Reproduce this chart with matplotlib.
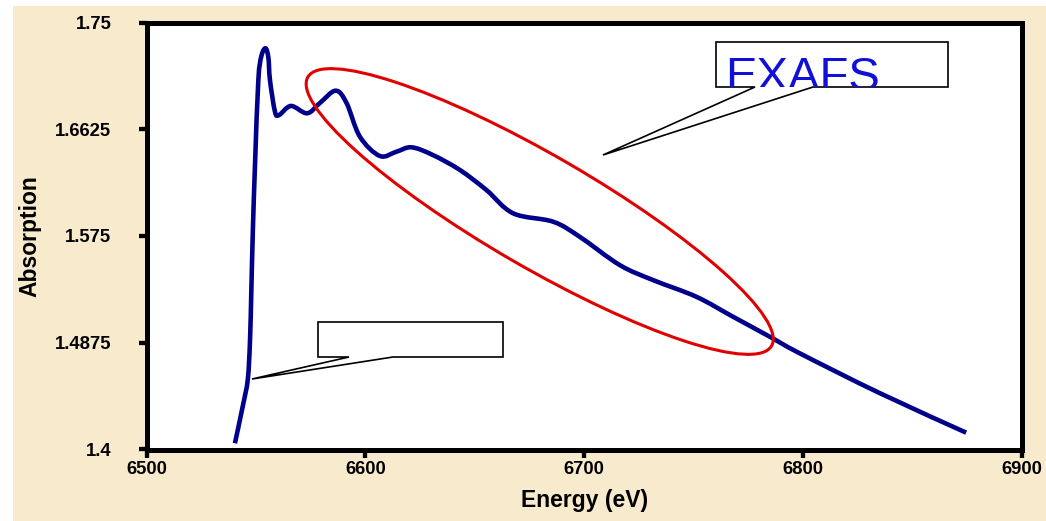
import matplotlib
matplotlib.use("Agg")
import matplotlib.pyplot as plt
from matplotlib.patches import Rectangle, Ellipse, Polygon, PathPatch
from matplotlib.path import Path
from matplotlib.transforms import IdentityTransform, Bbox

# ---- data ----
energy = [6540.4, 6544.1, 6546.3, 6547.3, 6547.9, 6548.6, 6549.6, 6551.1,
          6552.5, 6554.4, 6555.7, 6556.4, 6558.7, 6560.6, 6566.0, 6573.4, 6579.2,
          6586.4, 6591.4, 6597.5, 6606.6, 6614.2, 6621.1, 6630.8, 6643.2, 6655.3,
          6667.5, 6685.8, 6697.9, 6716.2, 6731.4, 6751.2, 6767.9, 6784.7, 6798.4,
          6834.9, 6874.5]
absorption = [1.4051, 1.4365, 1.4578, 1.4898, 1.5307, 1.5799, 1.6348, 1.7029,
              1.7225, 1.7289, 1.7209, 1.7029, 1.6769, 1.6742, 1.6816, 1.6756, 1.6840,
              1.6941, 1.6840, 1.6564, 1.6406, 1.6441, 1.6477, 1.6414, 1.6291, 1.6127,
              1.5936, 1.5867, 1.5744, 1.5512, 1.5389, 1.5252, 1.5089, 1.4925, 1.4789,
              1.4463, 1.4138]
x_ticks = [6500, 6600, 6700, 6800, 6900]
y_ticks = [1.4, 1.4875, 1.575, 1.6625, 1.75]
y_tick_labels = ["1.4", "1.4875", "1.575", "1.6625", "1.75"]
callout_text = "EXAFS"

W, H = 1046, 521
fig = plt.figure(figsize=(W / 100, H / 100), dpi=100, facecolor="white")

# parchment background
fig.patches.append(Rectangle((13 / W, 0), 1 - 13 / W, (H - 6) / H,
                             transform=fig.transFigure, facecolor="#F8EBCD",
                             edgecolor="none", zorder=-10))

left, right, top, bottom = 146.5, 1022.0, 22.5, 449.5
ax = fig.add_axes([left / W, (H - bottom) / H, (right - left) / W, (bottom - top) / H])
ax.set_zorder(1)
ax.set_facecolor("white")


def smooth_path(xs, ys, k=1.0 / 6.0):
    """Smoothed-line rendering (Catmull-Rom as cubic Bezier segments)."""
    pts = list(zip(xs, ys))
    n = len(pts)
    verts = [pts[0]]
    codes = [Path.MOVETO]
    for i in range(n - 1):
        p0 = pts[i - 1] if i > 0 else pts[i]
        p1 = pts[i]
        p2 = pts[i + 1]
        p3 = pts[i + 2] if i + 2 < n else pts[i + 1]
        c1 = (p1[0] + (p2[0] - p0[0]) * k, p1[1] + (p2[1] - p0[1]) * k)
        c2 = (p2[0] - (p3[0] - p1[0]) * k, p2[1] - (p3[1] - p1[1]) * k)
        verts += [c1, c2, p2]
        codes += [Path.CURVE4] * 3
    return Path(verts, codes)


ax.add_patch(PathPatch(smooth_path(energy, absorption), facecolor="none",
                       edgecolor="#00008B", lw=3.3, joinstyle="round",
                       capstyle="butt", zorder=3))

ax.set_xlim(6500, 6900)
ax.set_ylim(1.4, 1.75)
ax.set_xticks(x_ticks)
ax.set_xticklabels([str(v) for v in x_ticks])
ax.set_yticks(y_ticks)
ax.set_yticklabels(y_tick_labels)

for s in ax.spines.values():
    s.set_linewidth(3.6)
    s.set_color("black")
ax.tick_params(axis="both", direction="out", length=5.8, width=3.1, color="black")
ax.tick_params(axis="y", pad=19.5)
ax.tick_params(axis="x", pad=2.5)
for lab in ax.get_xticklabels() + ax.get_yticklabels():
    lab.set_fontfamily("Liberation Sans")
    lab.set_fontweight("bold")
    lab.set_fontsize(13.3)

ax.set_xlabel("Energy (eV)", fontfamily="Liberation Sans", fontweight="bold",
              fontsize=16.5, labelpad=8)
ax.set_ylabel("Absorption", fontfamily="Liberation Sans", fontweight="bold",
              fontsize=16.5, labelpad=10)

# ---- annotations in pixel space (image y measured from top) ----
ident = IdentityTransform()


def P(x, y):
    return (x, H - y)


ell = Ellipse(P(539.7, 211.5), width=536, height=112, angle=-30.1,
              transform=ident, facecolor="none", edgecolor="#E00000", lw=2.2,
              zorder=4, clip_on=False)
fig.patches.append(ell)

exafs_box = [P(716, 42), P(948, 42), P(948, 87), P(813, 87), P(603, 155),
             P(755, 87), P(716, 87)]
fig.patches.append(Polygon(exafs_box, closed=True, transform=ident,
                           facecolor="white", edgecolor="black", lw=1.2, zorder=5,
                           joinstyle="miter"))
t = fig.text(725, H - 90, callout_text, transform=ident, fontsize=34,
             fontfamily="Liberation Sans", color="#1010D8", ha="left",
             va="baseline", zorder=6)
t.set_clip_on(True)
t.set_clip_box(Bbox.from_extents(716.5, H - 86.5, 947.5, H - 42.5))

low_box = [P(318, 322), P(503, 322), P(503, 357), P(393, 357), P(252, 379),
           P(349, 357), P(318, 357)]
fig.patches.append(Polygon(low_box, closed=True, transform=ident,
                           facecolor="white", edgecolor="black", lw=1.2, zorder=5,
                           joinstyle="miter"))

fig.savefig("out.png", dpi=100, facecolor=fig.get_facecolor())
